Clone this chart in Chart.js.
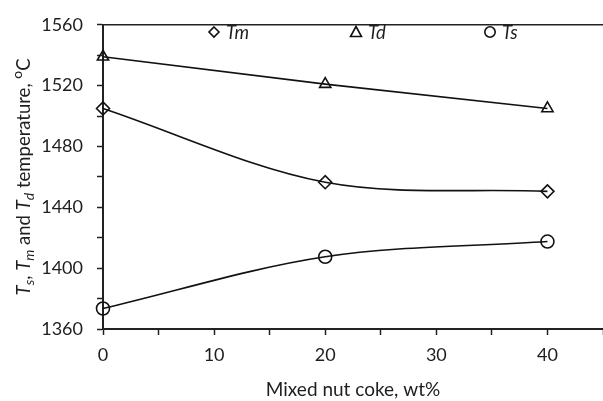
<!DOCTYPE html>
<html>
<head>
<meta charset="utf-8">
<script src="https://cdn.jsdelivr.net/npm/chart.js@4.4.0/dist/chart.umd.min.js"></script>
<style>
  html, body { margin: 0; padding: 0; background: #fff; overflow: hidden; }
</style>
</head>
<body>
<canvas id="js--chart" width="603" height="401"></canvas>
<script>
// values
const cokeContent = [0, 20, 40];
const tmValues = [1505, 1456.5, 1450.5];
const tdValues = [1539, 1521, 1505];
const tsValues = [1373.5, 1407.5, 1417.5];
const seriesNames = ["Tm", "Td", "Ts"];
const xTickLabels = [0, 10, 20, 30, 40];
const yTickLabels = [1360, 1400, 1440, 1480, 1520, 1560];

const FONT = "Lato";
const TEXT = "#1e1e1e";

function points(values){
    return cokeContent.map(function(x, i){
        return { x: x, y: values[i] };
    });
}

function series(name, values, style, tension){
    return {
        label: name,
        data: points(values),
        borderColor: "#111",
        borderWidth: 1.6,
        pointStyle: style,
        pointRadius: 6.5,
        pointBorderWidth: 1.6,
        pointBorderColor: "#111",
        pointBackgroundColor: "rgba(0,0,0,0)",
        tension: tension,
        clip: false,
        fill: false
    };
}

// legend row inside the plot, top
const legendPlugin = {
    id: "topLegend",
    afterDraw: function(chart){
        const ctx = chart.ctx;
        const xs = [214, 356, 490];
        const y = 32;
        ctx.save();
        ctx.strokeStyle = "#111";
        ctx.lineWidth = 1.6;
        chart.data.datasets.forEach(function(ds, i){
            const cx = xs[i];
            ctx.beginPath();
            if (ds.pointStyle === "rectRot"){
                ctx.moveTo(cx, y - 5); ctx.lineTo(cx + 5, y);
                ctx.lineTo(cx, y + 5); ctx.lineTo(cx - 5, y);
                ctx.closePath();
            } else if (ds.pointStyle === "triangle"){
                ctx.moveTo(cx, y - 5.5); ctx.lineTo(cx + 5.5, y + 4.5);
                ctx.lineTo(cx - 5.5, y + 4.5);
                ctx.closePath();
            } else {
                ctx.arc(cx, y, 5.2, 0, Math.PI * 2);
            }
            ctx.stroke();
            ctx.fillStyle = TEXT;
            ctx.font = "italic 18.5px " + FONT;
            ctx.textBaseline = "middle";
            ctx.textAlign = "left";
            ctx.fillText(seriesNames[i], cx + 12, y + 1);
        });
        ctx.restore();
    }
};

// top frame line + axis titles with sub/superscripts
const framePlugin = {
    id: "frame",
    afterDraw: function(chart){
        const ctx = chart.ctx;
        const a = chart.chartArea;
        ctx.save();
        ctx.strokeStyle = "#222";
        ctx.lineWidth = 1.5;
        ctx.beginPath();
        ctx.moveTo(a.left, a.top);
        ctx.lineTo(a.right, a.top);
        ctx.stroke();

        ctx.fillStyle = TEXT;
        ctx.textBaseline = "alphabetic";
        ctx.textAlign = "center";
        ctx.font = "19px " + FONT;
        ctx.fillText("Mixed nut coke, wt%", (a.left + a.right) / 2, 396);

        const parts = [
            { t: "T", it: true }, { t: "s", it: true, sub: true }, { t: ", " },
            { t: "T", it: true }, { t: "m", it: true, sub: true }, { t: " and " },
            { t: "T", it: true }, { t: "d", it: true, sub: true }, { t: " temperature, " },
            { t: "o", sup: true }, { t: "C" }
        ];
        function fontOf(p){
            const size = (p.sub || p.sup) ? 14 : 18.5;
            return (p.it ? "italic " : "") + size + "px " + FONT;
        }
        let total = 0;
        parts.forEach(function(p){
            ctx.font = fontOf(p);
            p.w = ctx.measureText(p.t).width;
            total += p.w;
        });
        ctx.translate(30, (a.top + a.bottom) / 2);
        ctx.rotate(-Math.PI / 2);
        ctx.textAlign = "left";
        let x = -total / 2;
        parts.forEach(function(p){
            ctx.font = fontOf(p);
            const dy = p.sub ? 4 : (p.sup ? -8 : 0);
            ctx.fillText(p.t, x, dy);
            x += p.w;
        });
        ctx.restore();
    }
};

new Chart(document.getElementById("js--chart"), {
    type: "line",
    data: {
        datasets: [
            series(seriesNames[0], tmValues, "rectRot", 0.33),
            series(seriesNames[1], tdValues, "triangle", 0),
            series(seriesNames[2], tsValues, "circle", 0.33)
        ]
    },
    options: {
        responsive: false,
        animation: false,
        layout: { autoPadding: false, padding: { top: 18, right: 0, left: 0, bottom: 0 } },
        plugins: {
            legend: { display: false },
            tooltip: { enabled: false }
        },
        scales: {
            x: {
                type: "linear",
                min: 0,
                max: 45,
                afterFit: function(scale){
                    scale.height = 72;
                    scale.paddingRight = 0;
                },
                border: { color: "#222", width: 2 },
                grid: { drawOnChartArea: false, tickLength: 6, tickColor: "#222", tickWidth: 1.5 },
                ticks: {
                    stepSize: 5,
                    padding: 9,
                    color: TEXT,
                    font: { family: FONT, size: 18 },
                    maxRotation: 0,
                    callback: function(v){ return xTickLabels.includes(v) ? String(v) : ""; }
                }
            },
            y: {
                min: 1360,
                max: 1560,
                afterFit: function(scale){ scale.width = 103; },
                border: { color: "#222", width: 2 },
                grid: { drawOnChartArea: false, tickLength: 6, tickColor: "#222", tickWidth: 1.5 },
                ticks: {
                    stepSize: 20,
                    padding: 14,
                    color: TEXT,
                    font: { family: FONT, size: 18 },
                    callback: function(v){ return yTickLabels.includes(v) ? String(v) : ""; }
                }
            }
        }
    },
    plugins: [legendPlugin, framePlugin]
});
</script>
</body>
</html>
